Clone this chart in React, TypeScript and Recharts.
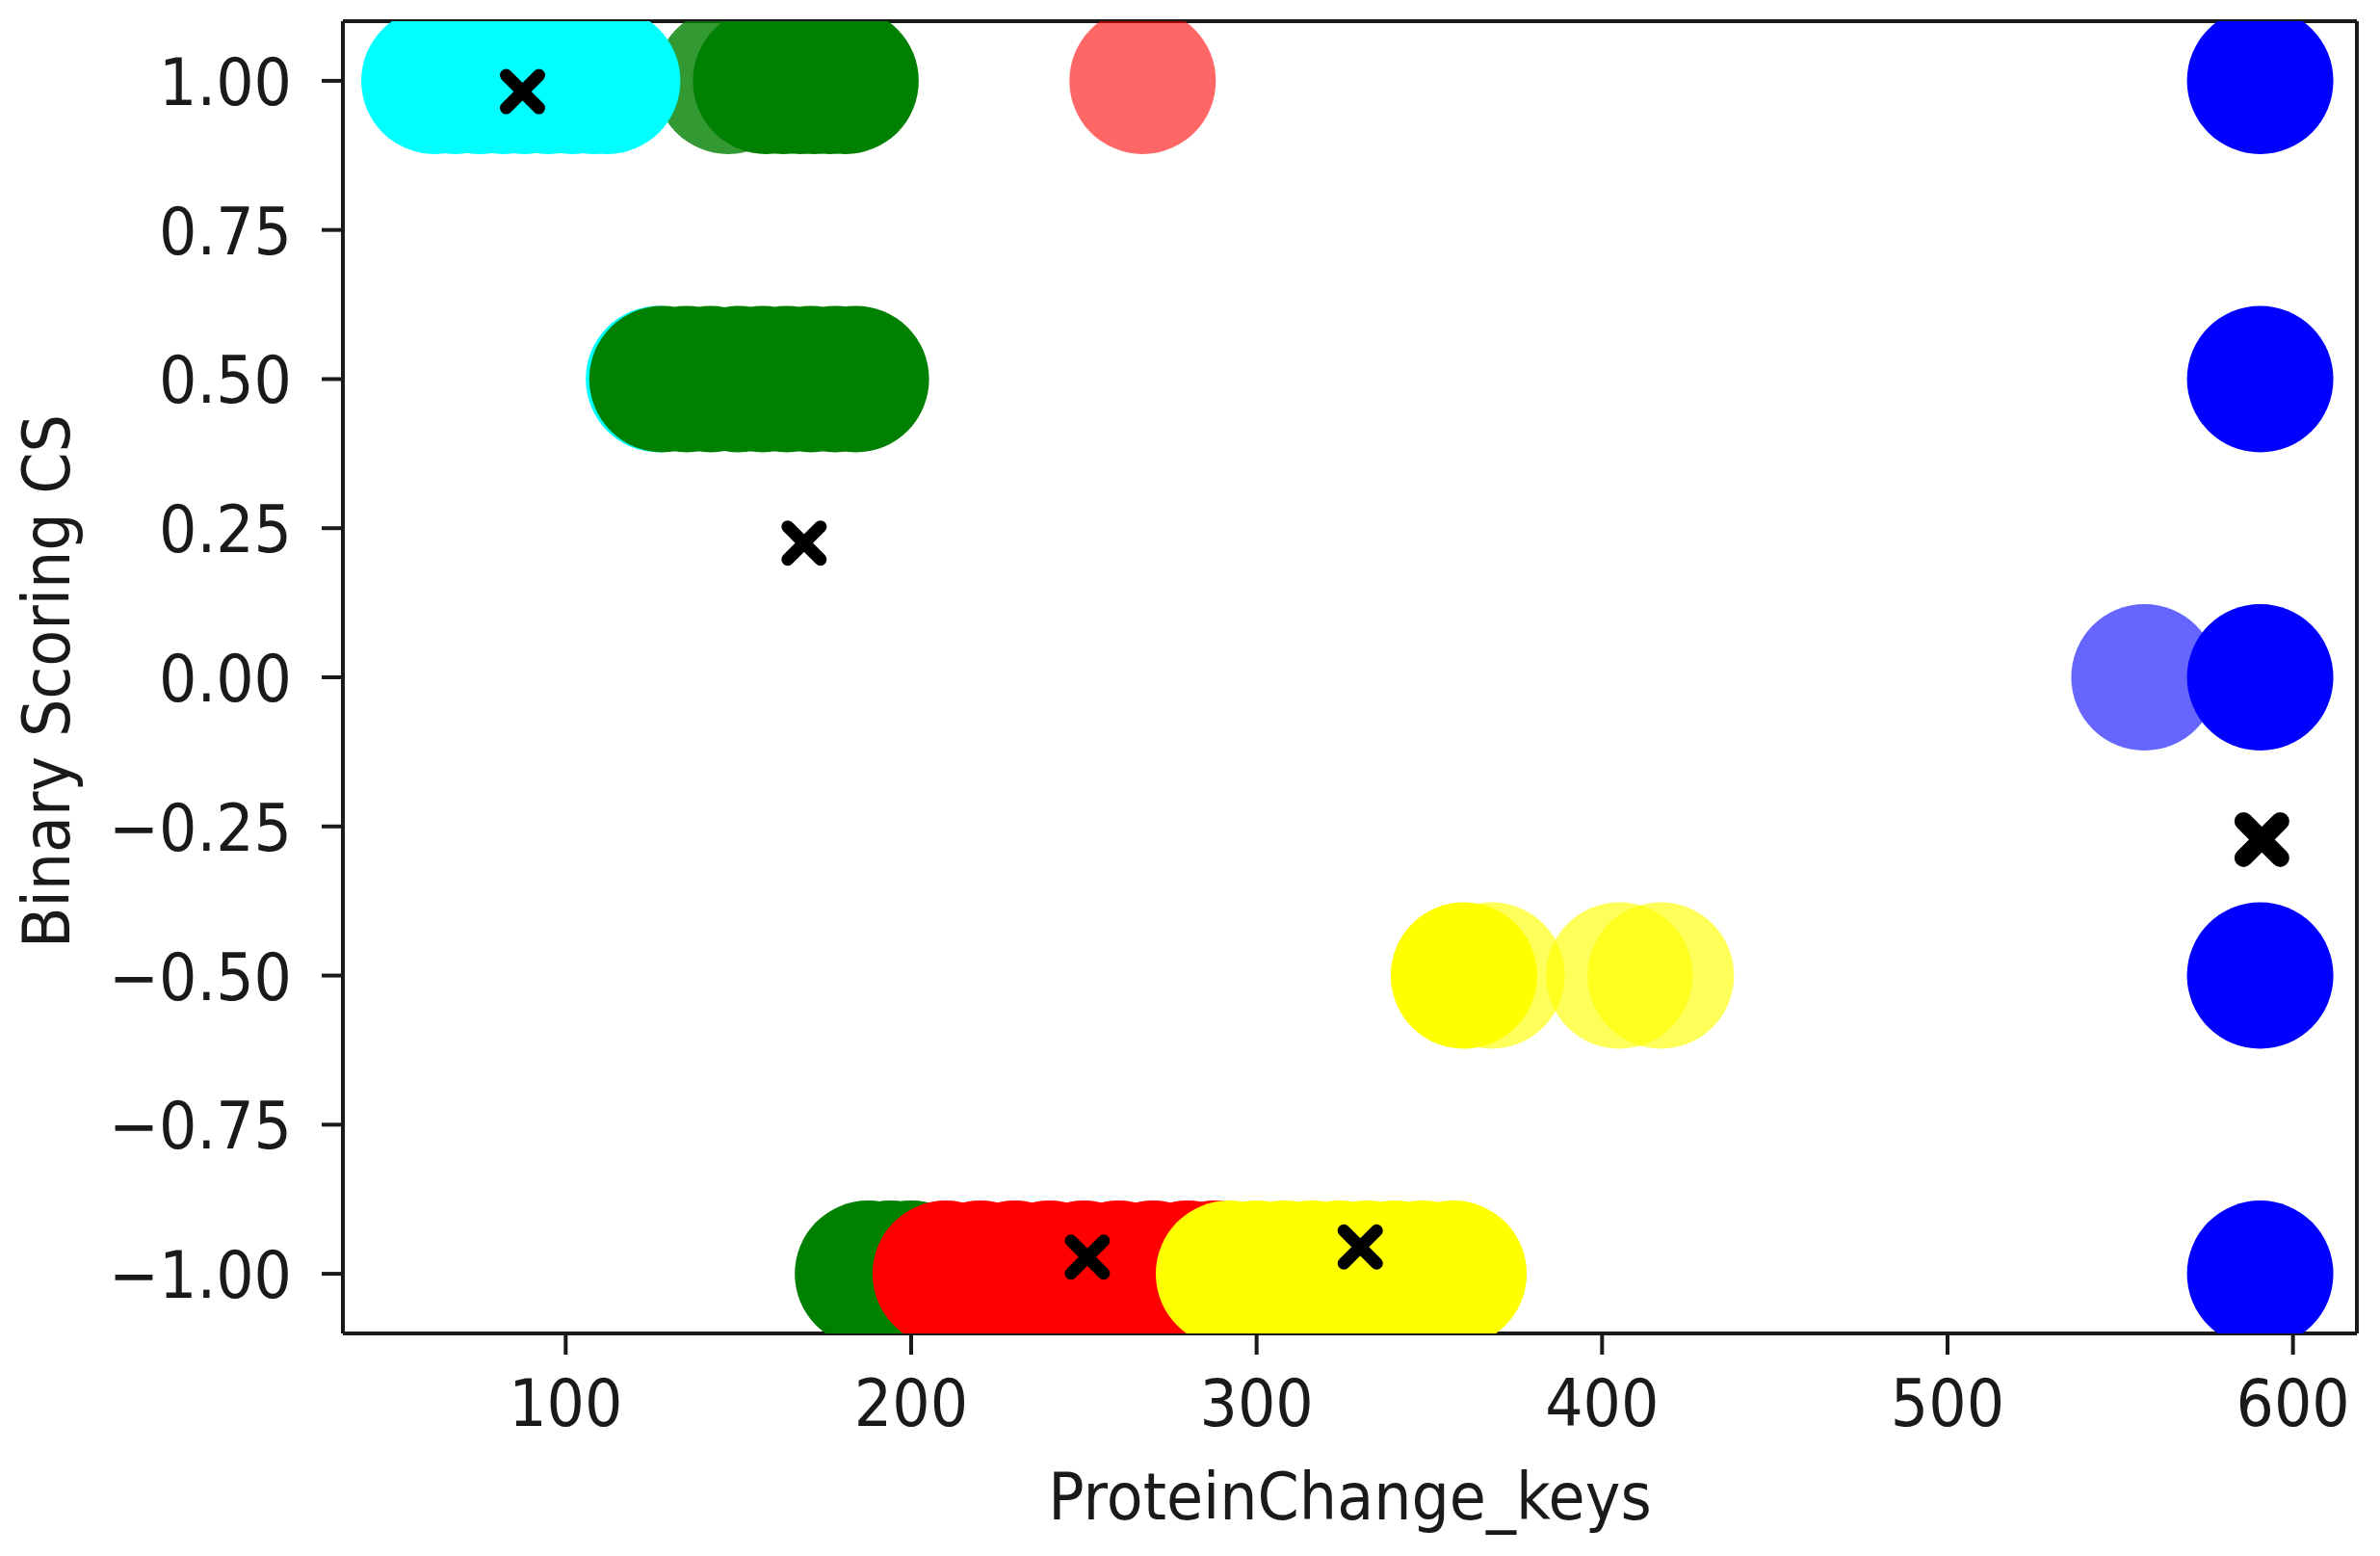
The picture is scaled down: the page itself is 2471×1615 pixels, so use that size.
import React from 'react';
import { ScatterChart, Scatter, XAxis, YAxis, ReferenceLine } from 'recharts';

const W = 2471;
const H = 1615;

const xTicks = [100, 200, 300, 400, 500, 600];
const yTicks = [-1, -0.75, -0.5, -0.25, 0, 0.25, 0.5, 0.75, 1];
const xDomain: [number, number] = [35.5, 618.5];
const yDomain: [number, number] = [-1.1, 1.1];

const xTitle = 'ProteinChange_keys';
const yTitle = 'Binary Scoring CS';

type P = [number, number];

const cyanUnder: P[] = [[127, 0.5]];
const greenFaint: P[] = [[147, 1]];
const greenPts: P[] = [
  [158, 1], [163, 1], [168, 1], [172, 1], [176.5, 1], [181, 1],
  [128, 0.5], [135, 0.5], [142, 0.5], [150, 0.5], [157, 0.5], [164, 0.5], [171, 0.5], [178, 0.5], [184, 0.5],
  [187.5, -1], [194, -1], [200, -1],
];
const redFaint: P[] = [[267, 1]];
const redPts: P[] = [
  [210, -1], [220, -1], [230, -1], [240, -1], [250, -1], [260, -1], [270, -1], [280, -1], [288, -1],
];
const yellowPts: P[] = [
  [292, -1], [300, -1], [308, -1], [316, -1], [324, -1], [332, -1], [340, -1], [348, -1], [357, -1],
  [360, -0.5],
];
const yellowFaint: P[] = [[368, -0.5], [405, -0.5], [417, -0.5]];
const cyanPts: P[] = [
  [62, 1], [68, 1], [75, 1], [82, 1], [88, 1], [95, 1], [102, 1], [108, 1], [112, 1],
];
const blueFaint: P[] = [[557, 0]];
const bluePts: P[] = [[590.5, 1], [590.5, 0.5], [590.5, 0], [590.5, -0.5], [590.5, -1]];
const meanMarks: P[] = [[87.5, 0.982], [169, 0.225], [251, -0.972], [330, -0.955]];
const boldMarks: P[] = [[591, -0.272]];

const toPts = (a: P[]) => a.map(([x, y]) => ({ x, y }));

const R = 76;
const INK = '#1a1a1a';
const FONT = 'DejaVu Sans';
const FS = 62;

const circle = (fill: string, op: number) => (p: any) =>
  p.cx == null ? <g /> : <circle cx={p.cx} cy={p.cy} r={R} fill={fill} fillOpacity={op} />;

const cross = (half: number, w: number) => (p: any) =>
  p.cx == null ? <g /> : (
    <path
      d={`M${p.cx - half},${p.cy - half}L${p.cx + half},${p.cy + half}M${p.cx - half},${p.cy + half}L${p.cx + half},${p.cy - half}`}
      stroke="#000"
      strokeWidth={w}
      strokeLinecap="round"
      fill="none"
    />
  );

const fmtY = (v: number) => v.toFixed(2).replace('-', '\u2212');

const XTick = (p: any) => (
  <g transform={`translate(${p.x},${p.y + 52}) scale(1,1.1)`}>
    <text x={0} y={0} textAnchor="middle" fontFamily={FONT} fontSize={FS} fill={INK}>
      {p.payload.value}
    </text>
  </g>
);

const YTick = (p: any) => (
  <g transform={`translate(${p.x},${p.y + 25}) scale(1,1.1)`}>
    <text x={0} y={0} textAnchor="end" fontFamily={FONT} fontSize={FS} fill={INK}>
      {fmtY(p.payload.value)}
    </text>
  </g>
);

const XLabel = (props: any) => {
  const vb = props.viewBox || {};
  const cx = vb.x != null ? vb.x + vb.width / 2 : 1400;
  const top = vb.y != null ? vb.y : 1384;
  return (
    <g transform={`translate(${cx},${top + 193}) scale(1,1.1)`}>
      <text x={0} y={0} textAnchor="middle" fontFamily={FONT} fontSize={FS} fill={INK}>
        {xTitle}
      </text>
    </g>
  );
};

const YLabel = (props: any) => {
  const vb = props.viewBox || {};
  const cy = vb.y != null ? vb.y + vb.height / 2 + 4 : 707;
  return (
    <g transform={`translate(72,${cy}) rotate(-90) scale(1,1.1)`}>
      <text x={0} y={0} textAnchor="middle" fontFamily={FONT} fontSize={FS} fill={INK}>
        {yTitle}
      </text>
    </g>
  );
};

const spine = { stroke: INK, strokeWidth: 4 };

export default function App() {
  return (
    <div style={{ position: 'absolute', left: 0, top: 0, width: W, height: H, background: '#fff' }}>
      <ScatterChart width={W} height={H} margin={{ top: 22, right: 24, bottom: 0, left: 0 }}>
        <XAxis
          type="number"
          dataKey="x"
          domain={xDomain}
          ticks={xTicks}
          interval={0}
          allowDataOverflow
          height={231}
          tickSize={22}
          tickMargin={22}
          axisLine={spine}
          tickLine={spine}
          tick={XTick}
          label={XLabel}
        />
        <YAxis
          type="number"
          dataKey="y"
          domain={yDomain}
          ticks={yTicks}
          interval={0}
          allowDataOverflow
          width={356}
          tickSize={22}
          tickMargin={31}
          axisLine={spine}
          tickLine={spine}
          tick={YTick}
          label={YLabel}
        />
        <Scatter data={toPts(cyanUnder)} shape={circle('#00ffff', 1)} isAnimationActive={false} />
        <Scatter data={toPts(greenFaint)} shape={circle('#008000', 0.8)} isAnimationActive={false} />
        <Scatter data={toPts(greenPts)} shape={circle('#008000', 1)} isAnimationActive={false} />
        <Scatter data={toPts(redFaint)} shape={circle('#ff0000', 0.6)} isAnimationActive={false} />
        <Scatter data={toPts(redPts)} shape={circle('#ff0000', 1)} isAnimationActive={false} />
        <Scatter data={toPts(yellowPts)} shape={circle('#ffff00', 1)} isAnimationActive={false} />
        <Scatter data={toPts(yellowFaint)} shape={circle('#ffff00', 0.65)} isAnimationActive={false} />
        <Scatter data={toPts(cyanPts)} shape={circle('#00ffff', 1)} isAnimationActive={false} />
        <Scatter data={toPts(blueFaint)} shape={circle('#0000ff', 0.6)} isAnimationActive={false} />
        <Scatter data={toPts(bluePts)} shape={circle('#0000ff', 1)} isAnimationActive={false} />
        <Scatter data={toPts(meanMarks)} shape={cross(17, 13)} isAnimationActive={false} />
        <Scatter data={toPts(boldMarks)} shape={cross(19, 19)} isAnimationActive={false} />
        <ReferenceLine y={yDomain[1]} stroke={INK} strokeWidth={4} ifOverflow="visible" />
        <ReferenceLine x={xDomain[1]} stroke={INK} strokeWidth={4} ifOverflow="visible" />
      </ScatterChart>
    </div>
  );
}
